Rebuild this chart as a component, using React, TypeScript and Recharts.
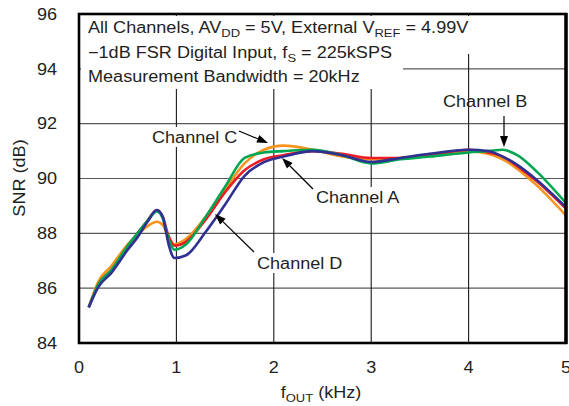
import React from 'react';
import { LineChart, Line, XAxis, YAxis, CartesianGrid } from 'recharts';

const freqs = [0.1, 0.2, 0.33, 0.5, 0.6, 0.7, 0.8, 0.86, 0.92, 0.98, 1.1, 1.3, 1.5, 1.7, 1.9, 2.1, 2.4, 2.7, 3.0, 3.3, 3.6, 4.0, 4.2, 4.35, 4.5, 4.7, 5.0];
const channelA = [85.3, 86.15, 86.65, 87.5, 88.0, 88.45, 88.85, 88.6, 87.9, 87.55, 87.7, 88.5, 89.5, 90.3, 90.7, 90.85, 91.0, 90.9, 90.75, 90.75, 90.85, 91.05, 90.95, 90.8, 90.45, 89.9, 88.9];
const channelB = [85.3, 86.15, 86.65, 87.55, 88.0, 88.45, 88.8, 88.55, 87.8, 87.4, 87.6, 88.6, 89.7, 90.75, 90.95, 91.0, 91.05, 90.85, 90.55, 90.7, 90.8, 90.95, 91.0, 91.05, 90.85, 90.25, 89.1];
const channelC = [85.3, 86.25, 86.8, 87.6, 87.95, 88.25, 88.42, 88.3, 87.85, 87.6, 87.8, 88.6, 89.6, 90.55, 91.05, 91.2, 91.05, 90.8, 90.7, 90.75, 90.85, 91.0, 90.9, 90.7, 90.35, 89.75, 88.65];
const channelD = [85.3, 86.05, 86.55, 87.4, 87.85, 88.4, 88.85, 88.6, 87.6, 87.1, 87.2, 88.05, 89.05, 90.1, 90.6, 90.8, 91.0, 90.85, 90.6, 90.75, 90.9, 91.05, 91.0, 90.8, 90.5, 89.95, 88.95];

const xTicks = [0, 1, 2, 3, 4, 5];
const yTicks = [84, 86, 88, 90, 92, 94, 96];

const data = freqs.map((f, i) => ({
  f,
  a: channelA[i],
  b: channelB[i],
  c: channelC[i],
  d: channelD[i],
}));

const font = "'Liberation Sans', Arial, Helvetica, sans-serif";
const ink = '#231f20';
const SX = 1.13; // the original type is set a bit wider than Arial

// stretch text horizontally about its anchor x
const wide = (x: number) => `translate(${x} 0) scale(${SX} 1) translate(${-x} 0)`;

const XTick = (props: any) => {
  const { x, y, payload } = props;
  return (
    <text x={x} y={y} dy="0.71em" textAnchor="middle" fontFamily={font} fontSize={16} fill={ink} transform={wide(x)}>
      {payload.value}
    </text>
  );
};

const YTick = (props: any) => {
  const { x, y, payload } = props;
  return (
    <text x={x} y={y} dy="0.36em" textAnchor="end" fontFamily={font} fontSize={16} fill={ink} transform={wide(x)}>
      {payload.value}
    </text>
  );
};

const Arrow = ({ x1, y1, x2, y2 }: { x1: number; y1: number; x2: number; y2: number }) => {
  const ang = Math.atan2(y2 - y1, x2 - x1);
  const len = 11;
  const w = 4;
  const bx = x2 - len * Math.cos(ang);
  const by = y2 - len * Math.sin(ang);
  const px = -Math.sin(ang) * w;
  const py = Math.cos(ang) * w;
  return (
    <g>
      <line x1={x1} y1={y1} x2={bx} y2={by} stroke="#000" strokeWidth={1.2} />
      <polygon points={`${x2},${y2} ${bx + px},${by + py} ${bx - px},${by - py}`} fill="#000" />
    </g>
  );
};

const Label = ({ x, y, children }: { x: number; y: number; children: React.ReactNode }) => (
  <text x={x} y={y} transform={wide(x)}>{children}</text>
);

const Overlay = () => (
  <svg width={569} height={406} style={{ position: 'absolute', left: 0, top: 0, pointerEvents: 'none' }}>
    <g fontFamily={font} fontSize={16} fill={ink}>
      <rect x={81} y={16} width={397} height={38} fill="#fff" />
      <rect x={81} y={54} width={322} height={35} fill="#fff" />
      <Label x={88} y={33}>
        All Channels, AV<tspan fontSize={11.5} dy={4}>DD</tspan>
        <tspan dy={-4}> = 5V, External V</tspan>
        <tspan fontSize={11.5} dy={4}>REF</tspan>
        <tspan dy={-4}> = 4.99V</tspan>
      </Label>
      <Label x={88} y={58}>
        −1dB FSR Digital Input, f<tspan fontSize={11.5} dy={4}>S</tspan>
        <tspan dy={-4}> = 225kSPS</tspan>
      </Label>
      <Label x={88} y={82}>Measurement Bandwidth = 20kHz</Label>

      <rect x={150} y={127} width={88} height={20} fill="#fff" />
      <Label x={152} y={143}>Channel C</Label>
      <rect x={314} y={187} width={90} height={20} fill="#fff" />
      <Label x={316} y={203}>Channel A</Label>
      <rect x={255} y={253} width={90} height={20} fill="#fff" />
      <Label x={257} y={269}>Channel D</Label>
      <Label x={443} y={107}>Channel B</Label>

      <Arrow x1={239} y1={131} x2={268} y2={143} />
      <Arrow x1={313} y1={189} x2={282} y2={158} />
      <Arrow x1={254} y1={252} x2={215} y2={214} />
      <Arrow x1={504} y1={116} x2={504} y2={147} />

      <text x={25} y={178} textAnchor="middle" transform={`rotate(-90 25 178) ${wide(25)}`}>SNR (dB)</text>
      <text x={321} y={398} textAnchor="middle" transform={wide(321)}>
        f<tspan fontSize={11.5} dy={4}>OUT</tspan>
        <tspan dy={-4}> (kHz)</tspan>
      </text>

      <rect x={79} y={14} width={487} height={329} fill="none" stroke="#000" strokeWidth={2.6} />
      <line x1={566} y1={13} x2={566} y2={344} stroke="#000" strokeWidth={3.4} />
    </g>
  </svg>
);

export default function App() {
  return (
    <div style={{ position: 'absolute', left: 0, top: 0, width: 569, height: 406, background: '#fff' }}>
      <LineChart width={569} height={406} data={data} margin={{ top: 14, right: 3, left: 0, bottom: 0 }}>
        <CartesianGrid horizontal={true} vertical={false} stroke="#5a5a5a" strokeWidth={1.2} />
        <CartesianGrid horizontal={false} vertical={true} stroke="#1a1a1a" strokeWidth={1.1} />
        <XAxis
          dataKey="f"
          type="number"
          domain={[0, 5]}
          ticks={xTicks}
          interval={0}
          axisLine={false}
          tickLine={false}
          tickMargin={13}
          height={63}
          tick={<XTick />}
        />
        <YAxis
          type="number"
          domain={[84, 96]}
          ticks={yTicks}
          interval={0}
          axisLine={false}
          tickLine={false}
          tickMargin={16}
          width={79}
          tick={<YTick />}
        />
        <Line type="monotone" dataKey="c" stroke="#f7941d" strokeWidth={2.6} dot={false} isAnimationActive={false} />
        <Line type="monotone" dataKey="a" stroke="#ed1c24" strokeWidth={2.6} dot={false} isAnimationActive={false} />
        <Line type="monotone" dataKey="b" stroke="#00a651" strokeWidth={2.6} dot={false} isAnimationActive={false} />
        <Line type="monotone" dataKey="d" stroke="#2e3192" strokeWidth={2.6} dot={false} isAnimationActive={false} />
      </LineChart>
      <Overlay />
    </div>
  );
}
